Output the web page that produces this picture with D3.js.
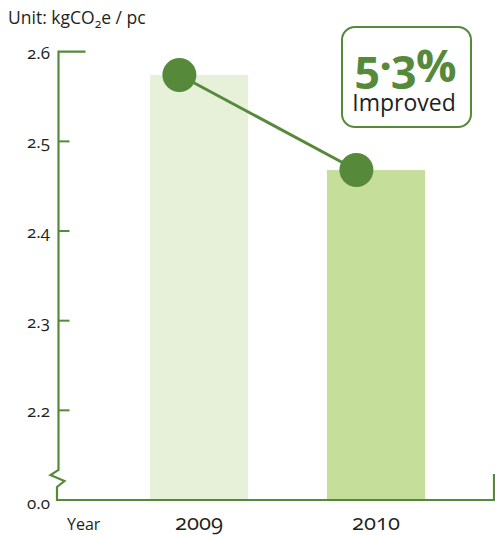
<!DOCTYPE html>
<html>
<head>
    <meta charset="utf-8">
    <script src="https://cdn.jsdelivr.net/npm/d3@7"></script>
    <style>
        body { margin: 0; background: #fff; }
        svg { display: block; }
        .lbl { font-family: 'Open Sans', sans-serif; fill: #231f20; font-variant-numeric: oldstyle-nums; }
    </style>
</head>
<body>
<script>
    // data
    const years = ["2009", "2010"];
    const emissions = [2.574, 2.468];
    const tickValues = [0, 2.2, 2.3, 2.4, 2.5, 2.6];
    const tickLabels = ["0.0", "2.2", "2.3", "2.4", "2.5", "2.6"];
    const barColors = ["#e7f1d9", "#c5df9b"];

    const width = 495, height = 535;
    const green = "#568a3a";

    const svg = d3.select("body").append("svg")
        .attr("width", width)
        .attr("height", height);

    // x: band per year
    let x = d3.scaleBand()
        .domain(years)
        .range([105, 470])
        .paddingInner(0.446)
        .paddingOuter(0.254);

    // y: broken axis, 0 sits where 2.1 would be
    let y = d3.scaleLinear()
        .domain([0, 2.1, 2.6])
        .range([500, 500, 51.7]);

    const axisX = 58.5;

    // bars
    svg.selectAll(".bar")
        .data(years)
        .enter().append("rect")
        .attr("class", "bar")
        .attr("x", d => x(d))
        .attr("width", x.bandwidth())
        .attr("y", (d, i) => y(emissions[i]))
        .attr("height", (d, i) => y(0) - y(emissions[i]))
        .attr("fill", (d, i) => barColors[i]);

    // axis line with break zigzag
    let yb = y(0);
    let axisPath = d3.path();
    axisPath.moveTo(axisX + 27, y(2.6));
    axisPath.lineTo(axisX, y(2.6));
    axisPath.lineTo(axisX, yb - 30);
    axisPath.lineTo(axisX - 8, yb - 25);
    axisPath.lineTo(axisX + 6, yb - 19);
    axisPath.lineTo(axisX - 1.5, yb - 13);
    axisPath.lineTo(axisX - 1.5, yb);
    axisPath.lineTo(width - 1, yb);
    axisPath.lineTo(width - 1, yb - 26);
    svg.append("path")
        .attr("d", axisPath.toString())
        .attr("fill", "none")
        .attr("stroke", green)
        .attr("stroke-width", 2.2);

    // tick marks
    svg.selectAll(".tick")
        .data(tickValues.filter(d => d > 2.1 && d < 2.6))
        .enter().append("line")
        .attr("x1", axisX)
        .attr("x2", axisX + 11)
        .attr("y1", d => y(d))
        .attr("y2", d => y(d))
        .attr("stroke", green)
        .attr("stroke-width", 2);

    // tick labels
    svg.selectAll(".ticklbl")
        .data(tickValues)
        .enter().append("text")
        .attr("class", "lbl")
        .attr("x", 50)
        .attr("y", d => y(d) + (d === 0 ? 9 : 7))
        .attr("text-anchor", "end")
        .style("font-size", "17px")
        .text((d, i) => tickLabels[i]);

    // line between points
    let px = (d) => x(d) + x.bandwidth() * 0.3;
    svg.append("path")
        .datum(years)
        .attr("d", d3.line().x(d => px(d)).y((d, i) => y(emissions[i])))
        .attr("stroke", green)
        .attr("stroke-width", 3)
        .attr("fill", "none");

    svg.selectAll(".dot")
        .data(years)
        .enter().append("circle")
        .attr("cx", d => px(d))
        .attr("cy", (d, i) => y(emissions[i]))
        .attr("r", 17)
        .attr("fill", green);

    // x labels
    svg.selectAll(".xlbl")
        .data(years)
        .enter().append("text")
        .attr("class", "lbl")
        .attr("x", d => x(d) + x.bandwidth() / 2)
        .attr("y", 530)
        .attr("text-anchor", "middle")
        .style("font-size", "22px")
        .text(d => d);

    svg.append("text")
        .attr("class", "lbl")
        .attr("x", 67)
        .attr("y", 530)
        .style("font-size", "16px")
        .text("Year");

    // unit label
    let unit = svg.append("text")
        .attr("class", "lbl")
        .attr("x", 8)
        .attr("y", 24)
        .style("font-size", "17.5px");
    unit.append("tspan").text("Unit: kgCO");
    unit.append("tspan").attr("dy", 4).style("font-size", "12px").text("2");
    unit.append("tspan").attr("dy", -4).text("e / pc");

    // improvement badge
    svg.append("rect")
        .attr("x", 342)
        .attr("y", 27)
        .attr("width", 129)
        .attr("height", 100)
        .attr("rx", 13)
        .attr("fill", "#fff")
        .attr("stroke", green)
        .attr("stroke-width", 2);

    svg.append("text")
        .attr("class", "lbl")
        .attr("x", 405)
        .attr("y", 82)
        .attr("text-anchor", "middle")
        .style("font-size", "45px")
        .style("font-weight", "bold")
        .style("fill", green)
        .style("letter-spacing", "-1px")
        .text("5·3%");

    svg.append("text")
        .attr("class", "lbl")
        .attr("x", 404)
        .attr("y", 111)
        .attr("text-anchor", "middle")
        .style("font-size", "23px")
        .text("Improved");
</script>
</body>
</html>
